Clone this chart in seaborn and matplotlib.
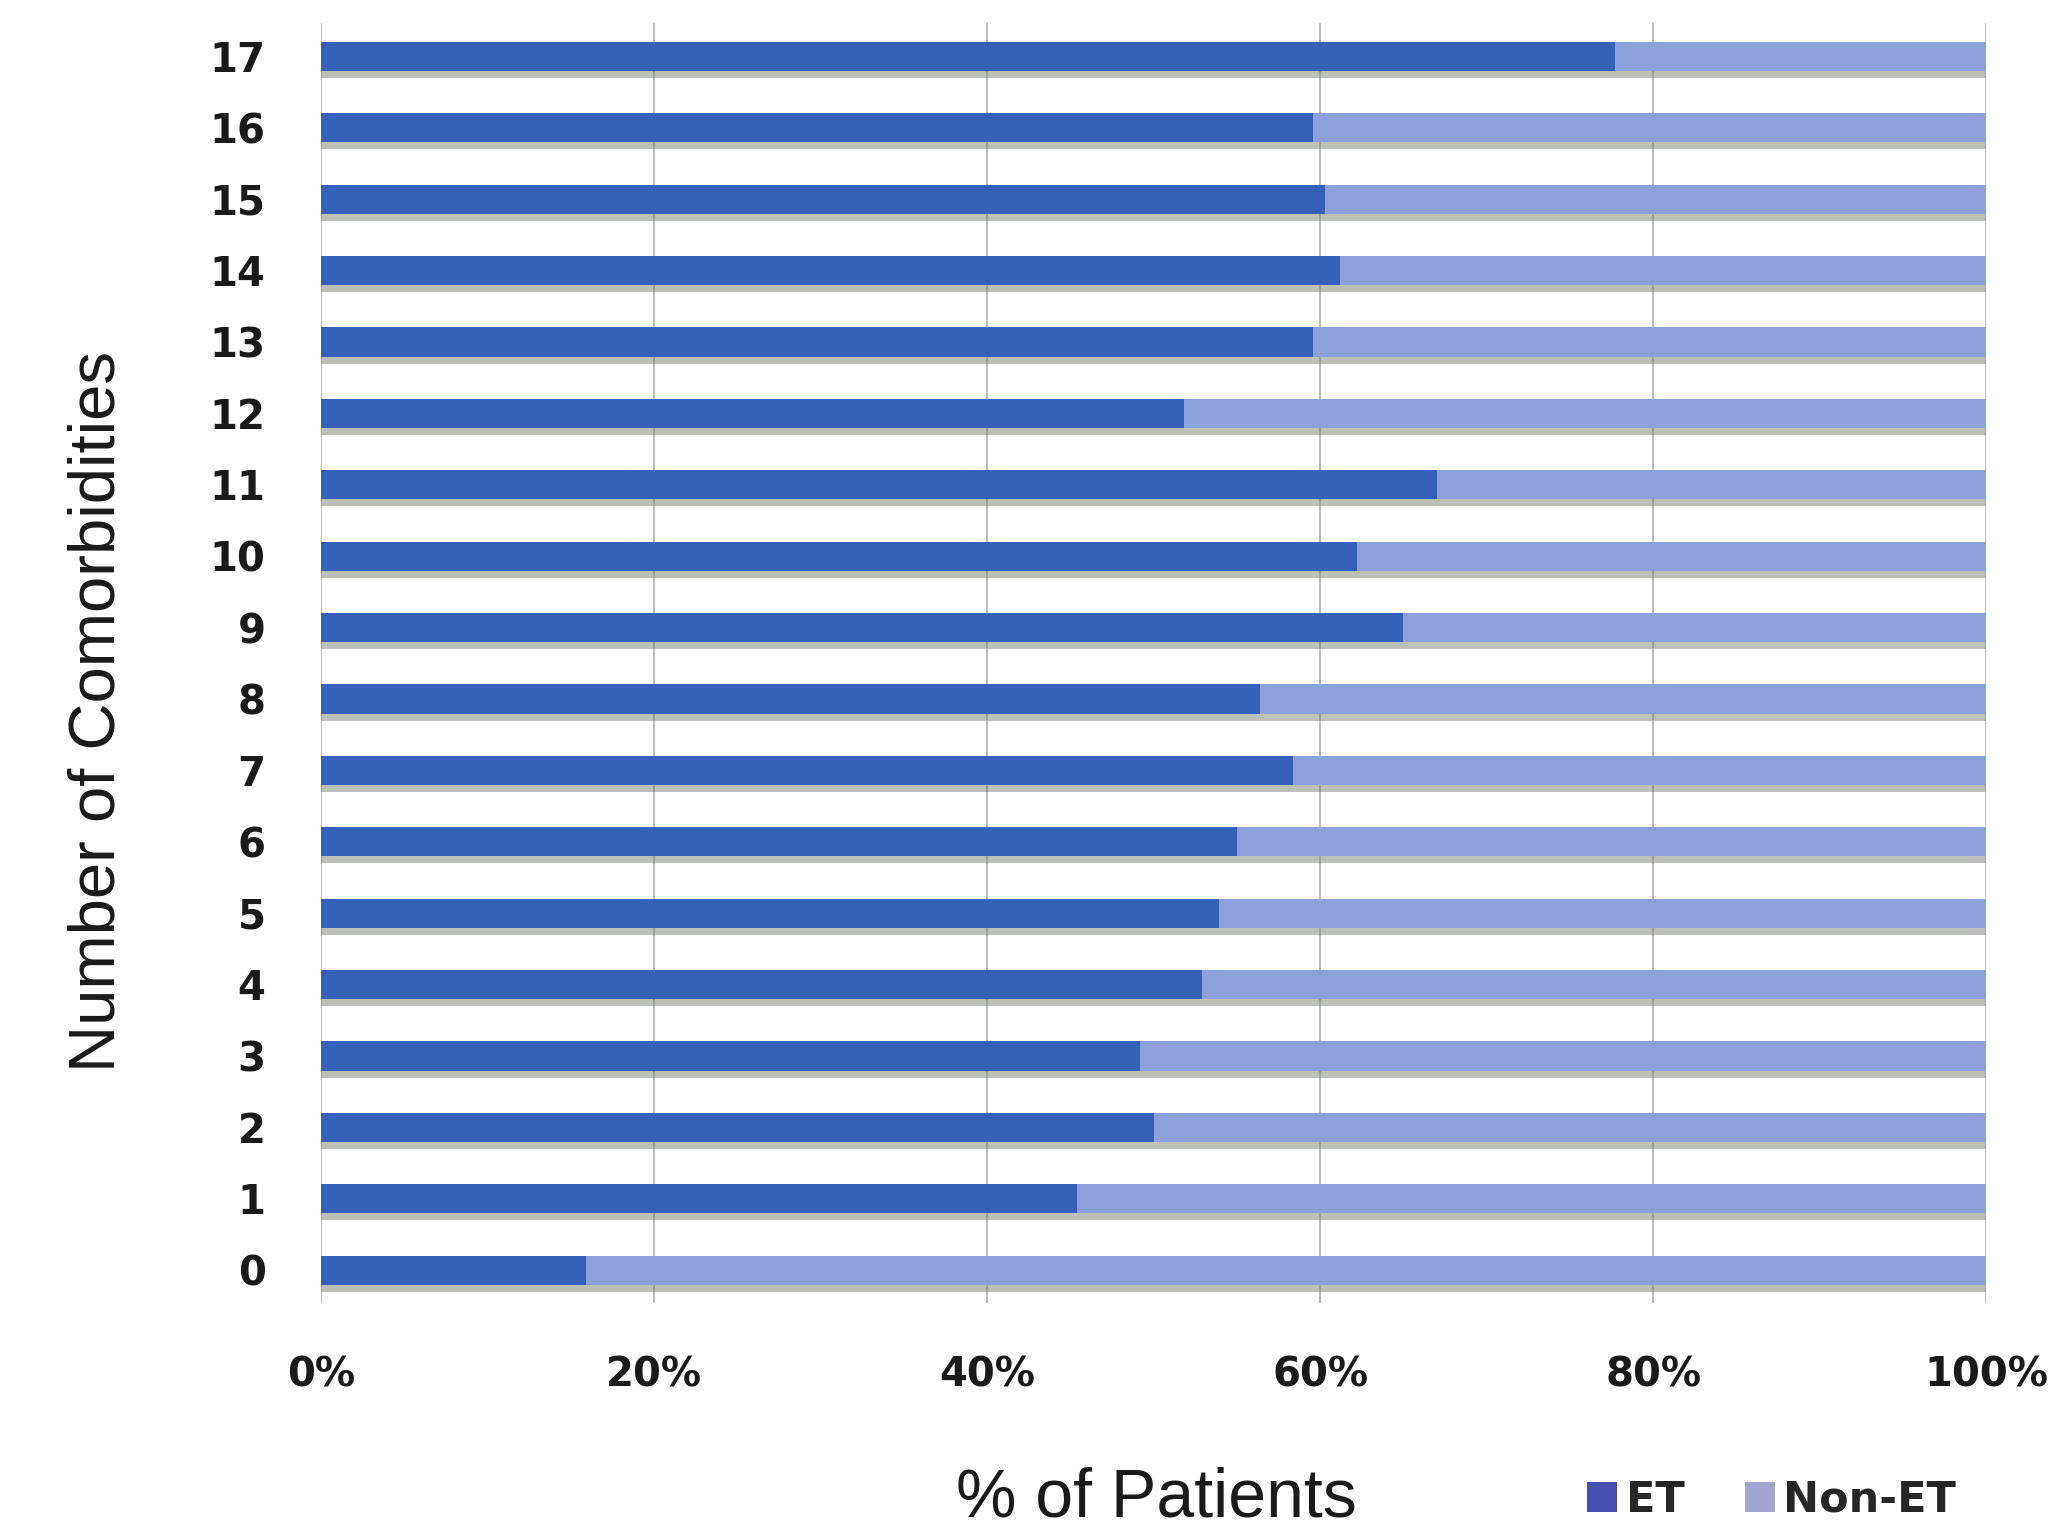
import matplotlib
matplotlib.use("Agg")
import matplotlib.pyplot as plt
import matplotlib.patheffects as pe
from matplotlib.patches import Patch
from matplotlib.font_manager import FontProperties
import pandas as pd
import seaborn as sns

# Share of patients with / without ET by number of comorbidities
comorbidities = [str(i) for i in range(18)]
et_pct = [15.9, 45.4, 50.0, 49.2, 52.9, 53.9, 55.0, 58.4, 56.4, 65.0,
          62.2, 67.0, 51.8, 59.6, 61.2, 60.3, 59.6, 77.7]
non_et_pct = [84.1, 54.6, 50.0, 50.8, 47.1, 46.1, 45.0, 41.6, 43.6, 35.0,
              37.8, 33.0, 48.2, 40.4, 38.8, 39.7, 40.4, 22.3]
x_ticks = [0, 20, 40, 60, 80, 100]
x_tick_labels = ["0%", "20%", "40%", "60%", "80%", "100%"]
series_labels = ["ET", "Non-ET"]

ET_COLOR = "#3561B9"
NON_ET_COLOR = "#8CA0DA"

sns.set_theme(style="white")
plt.rcParams["font.family"] = ["Liberation Sans", "DejaVu Sans"]

df = pd.DataFrame({"n": comorbidities, "ET": et_pct, "Non-ET": non_et_pct})
df["total"] = df["ET"] + df["Non-ET"]
order = comorbidities[::-1]  # highest count at the top

fig = plt.figure(figsize=(20.49, 15.27), dpi=100)
ax = fig.add_axes([0.1567, 0.1467, 0.8126, 0.8383])

# Stacked 100% bars: full-length Non-ET bar underneath, ET segment on top
sns.barplot(data=df, x="total", y="n", order=order, color=NON_ET_COLOR,
            saturation=1, width=0.41, linewidth=0, ax=ax, errorbar=None)
n_cat = len(order)
for p in ax.patches[:n_cat]:
    p.set_path_effects([
        pe.SimplePatchShadow(offset=(0, -5), shadow_rgbFace="#6e7464", alpha=0.45),
        pe.Normal(),
    ])
sns.barplot(data=df, x="ET", y="n", order=order, color=ET_COLOR,
            saturation=1, width=0.41, linewidth=0, ax=ax, errorbar=None)

ax.set_xlim(0, 100)
ax.set_ylim(17.46, -0.47)
ax.set_xticks(x_ticks)
ax.set_xticklabels(x_tick_labels)
ax.xaxis.grid(True, color="#b0b0b0", linewidth=1.2)
ax.yaxis.grid(False)
ax.set_axisbelow(True)
for s in ax.spines.values():
    s.set_visible(False)

tick_font = FontProperties(family=["DejaVu Sans"], weight="bold", size=29)
for lab in ax.get_xticklabels() + ax.get_yticklabels():
    lab.set_fontproperties(tick_font)
ax.tick_params(axis="x", length=0, pad=38, colors="#1a1a1a")
ax.tick_params(axis="y", length=0, pad=40, colors="#1a1a1a")

ax.set_xlabel("% of Patients", fontsize=49, color="#1a1a1a")
ax.set_ylabel("Number of Comorbidities", fontsize=47, color="#1a1a1a")
ax.xaxis.label.set_va("center")
ax.xaxis.set_label_coords(0.502, -0.153)
ax.yaxis.label.set_va("center")
ax.yaxis.set_label_coords(-0.134, 0.4617)

handles = [Patch(facecolor="#4650AE", edgecolor="none"),
           Patch(facecolor="#A2A5D3", edgecolor="none")]
fig.legend(handles, series_labels, loc="center", bbox_to_anchor=(0.8646, 0.0177),
           ncol=2, frameon=False,
           prop=FontProperties(family=["DejaVu Sans"], weight="bold", size=31),
           handlelength=0.7, handleheight=0.7, handletextpad=0.2,
           columnspacing=1.4, borderaxespad=0, borderpad=0)

fig.savefig("out.png", dpi=100, facecolor="white")
